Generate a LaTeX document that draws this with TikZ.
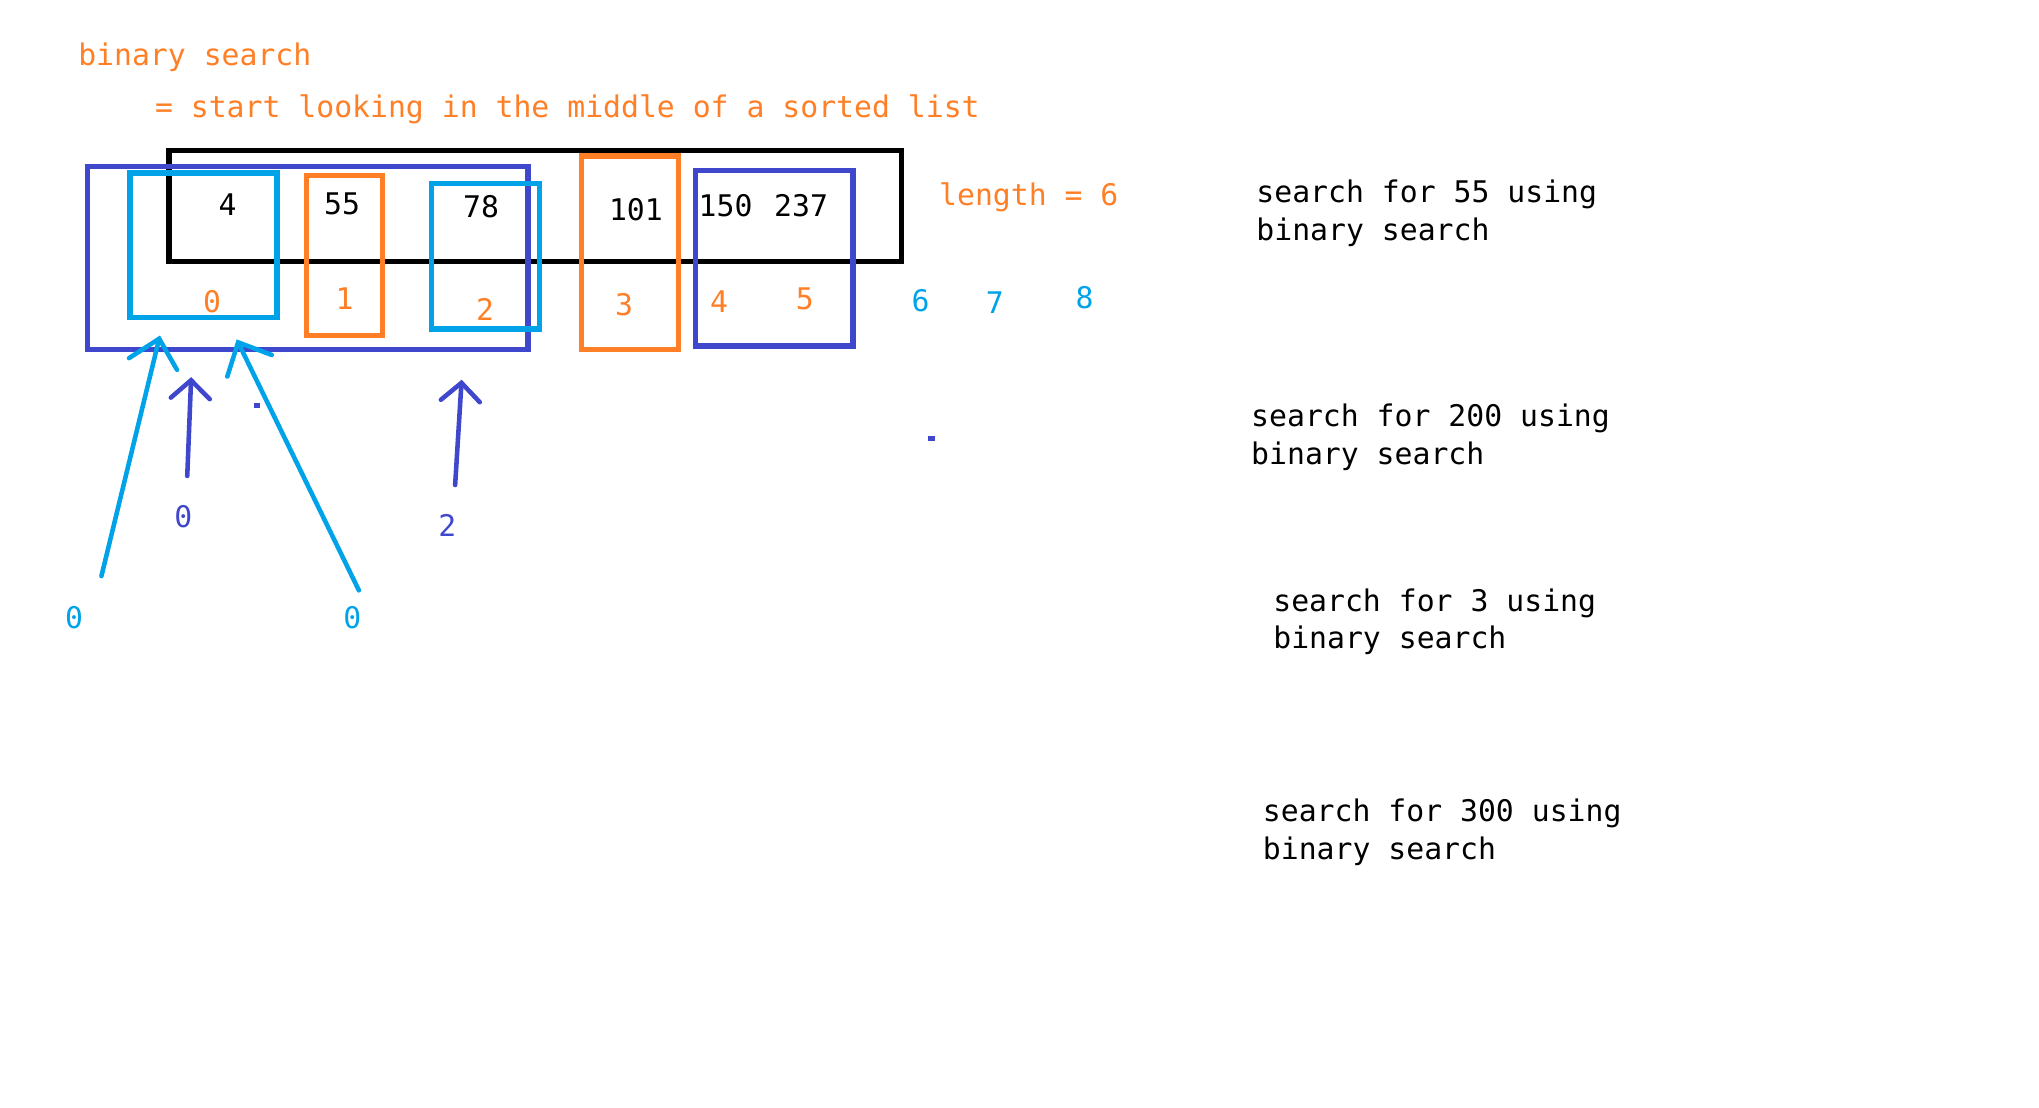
\documentclass[tikz,border=0pt]{standalone}
\usepackage{fontspec}
\setmonofont{DejaVu Sans Mono}
\usepackage{tikz}
\usetikzlibrary{arrows.meta}

\definecolor{orng}{RGB}{255,127,39}
\definecolor{cyanp}{RGB}{0,162,232}
\definecolor{indig}{RGB}{63,72,204}

\begin{document}
\begin{tikzpicture}[x=1pt,y=-1pt,
  txt/.style={font=\ttfamily\fontsize{22.9}{29}\selectfont,inner sep=0pt},
  idx/.style={txt,text=orng},
  box/.style 2 args={draw,line width=4pt,inner sep=0pt,minimum width=#1,minimum height=#2},
  flc/.style={line width=3.5pt,line cap=round,cyanp,-{Straight Barb[length=20pt,width=38pt,line cap=round]}},
  fli/.style={line width=3.5pt,line cap=round,indig,-{Straight Barb[length=14pt,width=30pt,line cap=round]}}]
  \useasboundingbox (0,0) rectangle (1568,852);

  \node[txt,text=orng,anchor=base west] (ttl) at (60,50) {binary search};
  \node[txt,text=orng,anchor=base west] (dfn) at (119,90) {= start looking in the middle of a sorted list};

  \node[box={563}{85}] (lst) at (411.5,158.5) {};
  \node[box={339}{141},indig] (lo) at (236.5,198.5) {};
  \node[box={113}{111},cyanp] (m0) at (156.5,188.5) {};
  \node[box={58}{123},orng] (m1) at (265,196.5) {};
  \node[box={83}{112},cyanp] (m2) at (373.5,197) {};
  \node[box={75}{149},orng] (m3) at (484.5,194.5) {};
  \node[box={121}{135},indig] (hi) at (595.5,198.5) {};

  \node[txt] (v0) at (175,157) {4};
  \node[txt] (v1) at (263,157) {55};
  \node[txt] (v2) at (370,159) {78};
  \node[txt] (v3) at (489,161) {101};
  \node[txt] (v4) at (558,158) {150};
  \node[txt] (v5) at (616,158) {237};

  \node[idx] (i0) at (163,232) {0};
  \node[idx] (i1) at (265,230) {1};
  \node[idx] (i2) at (373,238) {2};
  \node[idx] (i3) at (480,234) {3};
  \node[idx] (i4) at (553,232) {4};
  \node[idx] (i5) at (619,230) {5};
  \node[txt,text=cyanp] (i6) at (708,231) {6};
  \node[txt,text=cyanp] (i7) at (765,233) {7};
  \node[txt,text=cyanp] (i8) at (834,229) {8};

  \node[txt,text=orng,anchor=base west] (len) at (722,158) {length = 6};

  \coordinate (ct1) at (78,443);  \coordinate (cp1) at (123,258);
  \coordinate (ct2) at (276,454); \coordinate (cp2) at (182,261);
  \coordinate (it1) at (144,366); \coordinate (ip1) at (147,290);
  \coordinate (it2) at (350,373); \coordinate (ip2) at (355,292);
  \draw[flc] (ct1) -- (cp1);
  \draw[flc] (ct2) -- (cp2);
  \draw[fli] (it1) -- (ip1);
  \draw[fli] (it2) -- (ip2);
  \fill[indig] (195,310) rectangle (200,313.5);
  \fill[indig] (714,335) rectangle (719,339);

  \node[txt,text=indig] (l0) at (141,397) {0};
  \node[txt,text=indig] (l2) at (344,404) {2};
  \node[txt,text=cyanp] (h0) at (57,475) {0};
  \node[txt,text=cyanp] (h1) at (271,475) {0};

  \node[txt,align=left,anchor=base west] (q55) at (966,185) {search for 55 using\\binary search};
  \node[txt,align=left,anchor=base west] (q200) at (962,357) {search for 200 using\\binary search};
  \node[txt,align=left,anchor=base west] (q3) at (979,499) {search for 3 using\\binary search};
  \node[txt,align=left,anchor=base west] (q300) at (971,661) {search for 300 using\\binary search};
\end{tikzpicture}
\end{document}
